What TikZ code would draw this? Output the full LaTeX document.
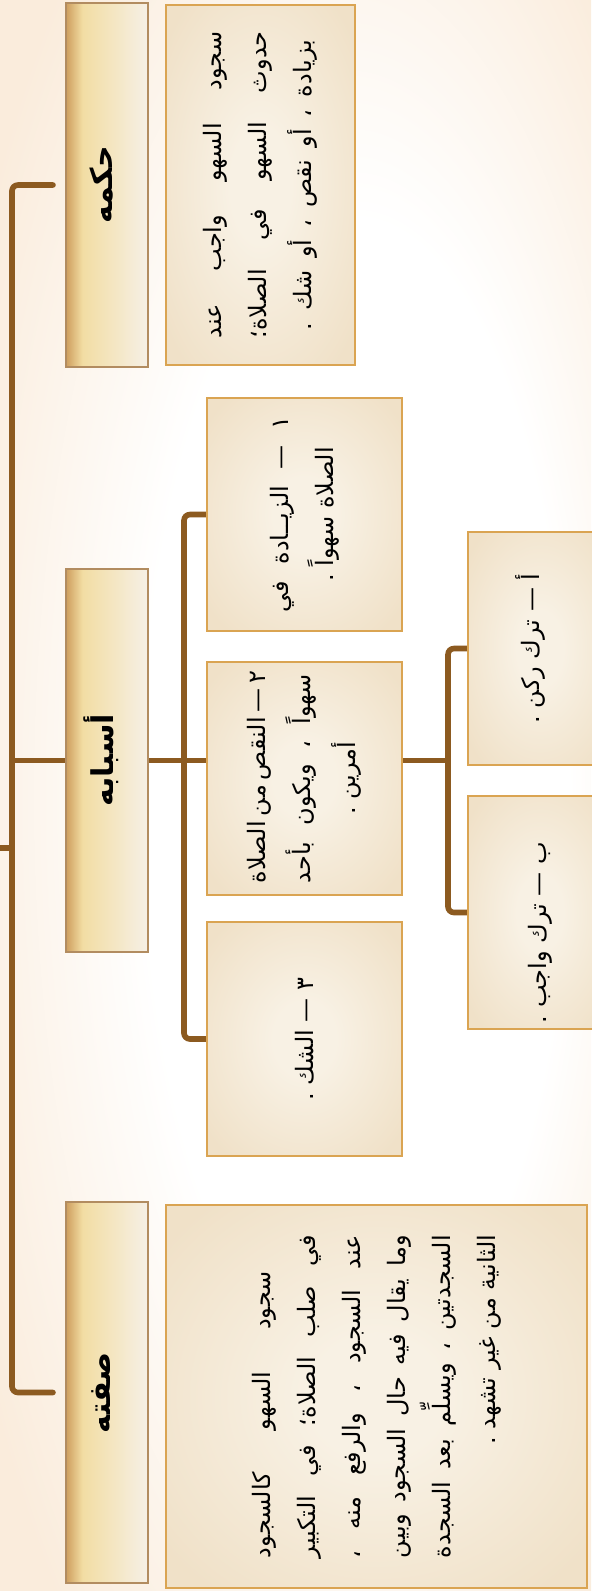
\documentclass[tikz,border=0pt]{standalone}
\usepackage{fontspec}
\usepackage{tikz}
\usetikzlibrary{calc,positioning,backgrounds}
\newfontfamily\arabicfont[Script=Arabic]{DejaVu Sans}
\TeXXeTstate=1
\definecolor{linkbrown}{RGB}{140,90,32}
\definecolor{hdA}{RGB}{206,158,94}
\definecolor{hdB}{RGB}{242,221,163}
\definecolor{hdC}{RGB}{246,240,230}
\definecolor{hdline}{RGB}{178,140,96}
\definecolor{bxline}{RGB}{218,164,82}
\definecolor{bxin}{RGB}{248,241,228}
\definecolor{bxout}{RGB}{240,225,200}
\definecolor{bgpeach}{RGB}{250,236,220}
\pgfdeclarehorizontalshading{hdrshade}{100bp}{color(0bp)=(hdA); color(25bp)=(hdA); color(35bp)=(hdB); color(75bp)=(hdC); color(100bp)=(hdC)}
\pgfdeclareradialshading{boxshade}{\pgfpoint{0bp}{0bp}}{color(0bp)=(bxin); color(8bp)=(bxin); color(32bp)=(bxout); color(50bp)=(bxout)}
\pgfdeclareradialshading{bgshade}{\pgfpoint{8bp}{0bp}}{color(0bp)=(white); color(18bp)=(white); color(34bp)=(bgpeach); color(50bp)=(bgpeach)}
% a line stretched to a given width
\newcommand{\jl}[2]{\makebox[#1][s]{#2}}

\begin{document}
\begin{tikzpicture}[
    x=0.5pt, y=-0.5pt,
    link/.style={draw=linkbrown, line width=2.8pt, line cap=round, rounded corners=3pt},
    hdr/.style={shade, shading=hdrshade, draw=hdline, line width=0.8pt,
                inner sep=0pt, outer sep=0pt, minimum width=41pt},
    box/.style={shade, shading=boxshade, draw=bxline, line width=1pt,
                inner sep=0pt, outer sep=0pt},
    hdrtxt/.style={rotate=90, inner sep=0pt, font=\arabicfont\bfseries\fontsize{15}{18}\selectfont},
    txt/.style={rotate=90, align=center, inner sep=0pt, font=\arabicfont\fontsize{12}{22.5}\selectfont}
]
\useasboundingbox (0,0) rectangle (591,1591);

% Headers
\node[hdr, minimum height=182pt]   (hkm) at (107,185) {};
\node[hdr, minimum height=191.5pt] (asb) at (107,760.5) {};
\node[hdr, minimum height=190.5pt] (sft) at (107,1392.5) {};
\node[hdrtxt] (hkmlbl) at ($(hkm.center)+(-6,0)$) {\beginR حكمه\endR};
\node[hdrtxt] (asblbl) at ($(asb.center)+(-6,0)$) {\beginR أسبابه\endR};
\node[hdrtxt] (sftlbl) at ($(sft.center)+(-6,0)$) {\beginR صفته\endR};

% Text boxes
\node[box, minimum width=94.5pt, minimum height=180pt]  (hkmbox) at (260.5,185) {};
\node[box, minimum width=210.5pt, minimum height=191.5pt] (sftbox) at (376.5,1396.5) {};
\node[box, minimum width=97.5pt, minimum height=116.5pt] (b1) at (304.5,514.5) {};
\node[box, minimum width=97.5pt, minimum height=116.5pt] (b2) at (304.5,778.5) {};
\node[box, minimum width=97.5pt, minimum height=117pt]   (b3) at (304.5,1039) {};
\node[box, minimum width=72pt, minimum height=116.5pt]   (ba) at (540,648.5) {};
\node[box, minimum width=72pt, minimum height=116.5pt]   (bb) at (540,912.5) {};

% Texts
\node[txt] (hkmtxt) at (hkmbox.center) {%
  \jl{153.5pt}{\beginR سجود السهو واجب عند\endR}\\
  \jl{153.5pt}{\beginR حدوث السهو في الصلاة؛\endR}\\
  \jl{145pt}{\beginR بزيادة ، أو نقص ، أو شك .\endR}};
\node[txt] (sfttxt) at (sftbox.center) {%
  \jl{161.5pt}{\beginR\kern18pt سجود السهو كالسجود\endR}\\
  \jl{161.5pt}{\beginR في صلب الصلاة؛ في التكبير\endR}\\
  \jl{161.5pt}{\beginR عند السجود ، والرفع منه ،\endR}\\
  \jl{161.5pt}{\beginR وما يقال فيه حال السجود وبين\endR}\\
  \jl{161.5pt}{\beginR السجدتين ، ويسلِّم بعد السجدة\endR}\\
  \makebox[161.5pt][r]{\beginR الثانية من غير تشهد .\endR}};
\node[txt] (b1txt) at (b1.center) {%
  \jl{97.5pt}{\beginR ١ — الزيــادة في\endR}\\
  \beginR الصلاة سهواً .\endR};
\node[txt] (b2txt) at (b2.center) {%
  \jl{104.5pt}{\beginR ٢ — النقص من الصلاة\endR}\\
  \jl{104.5pt}{\beginR سهواً ، ويكون بأحد\endR}\\
  \beginR أمرين .\endR};
\node[txt] (b3txt) at (b3.center) {\beginR ٣ — الشك .\endR};
\node[txt] (batxt) at ($(ba.center)+(-10,0)$) {\beginR أ — ترك ركن .\endR};
\node[txt] (bbtxt) at ($(bb.center)+(0,20)$) {\beginR ب — ترك واجب .\endR};

% Connectors
\coordinate (sp) at (12,0);
\coordinate (root) at (0,848);
\coordinate (sub) at (184,0);
\coordinate (subsub) at (448,0);
\begin{scope}[on background layer]
\shade[shading=bgshade] (0,0) rectangle (591,1591);
\draw[link] ($(hkm.west)+(-13,0)$) -- (sp |- hkm.west) -- (sp |- sft.west) -- ($(sft.west)+(-13,0)$);
\draw[link] (root) -- (sp |- root);
\draw[link] (sp |- asb.west) -- (asb.west);
\draw[link] (asb.east) -- (b2.west |- asb.east);
\draw[link] (b1.west) -- (sub |- b1.west) -- (sub |- b3.west) -- (b3.west);
\draw[link] (b2.east |- asb.east) -- (subsub |- asb.east);
\draw[link] (ba.west) -- (subsub |- ba.west) -- (subsub |- bb.west) -- (bb.west);
\end{scope}

\end{tikzpicture}
\end{document}
